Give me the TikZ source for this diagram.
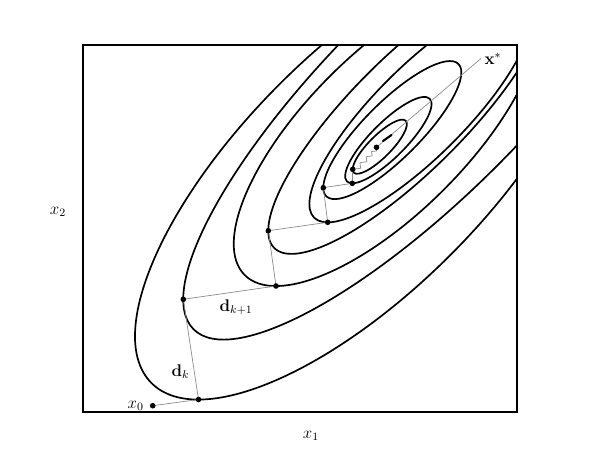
\documentclass[tikz,border=0pt]{standalone}
\usepackage{amsmath}
\usepackage{tikz}
\usetikzlibrary{positioning}

\begin{document}
\begin{tikzpicture}[
  x=0.25mm, y=-0.25mm,
  font=\large,
  frame/.style={line width=1.2pt},
  lvl/.style={line width=1.2pt},
  track/.style={draw=black!45, line width=0.5pt},
  dot/.style={circle, fill=black, inner sep=0pt, minimum size=1.4mm}
]
\useasboundingbox (0,0) rectangle (600,460);
\coordinate (bl) at (83,412);
\coordinate (tr) at (517,45);

% iterates of steepest descent
\coordinate (x0) at (152.7,405.7);
\coordinate (p1) at (198.5,399.5);
\coordinate (p2) at (183.3,299.3);
\coordinate (p3) at (276,286);
\coordinate (p4) at (268.3,230.7);
\coordinate (p5) at (327.7,222.3);
\coordinate (p6) at (323.3,187.7);
\coordinate (p7) at (352.3,183.3);
\coordinate (p8) at (352.7,169.3);
\coordinate (p9) at (376.5,147.3);
\coordinate (r1) at (383,141);
\coordinate (r2) at (391.5,135);
\coordinate (xs) at (481,58.5);

% level curves, each touching one iterate
% (point, angle of centre seen from the point, half axis, axis ratio)
\begin{scope}
  \clip (bl) rectangle (tr);
  \foreach \p/\t/\a/\r in {p1/-21.8/302/0.4, p2/16.7/330/0.3, p3/-21.8/201/0.4,
                           p4/16.7/190/0.3, p5/-16.7/150/0.3, p6/16.7/93.5/0.3,
                           p7/-16.7/58.5/0.3, p8/16.7/36.7/0.3}
  {
    \pgfmathsetmacro\b{\r*\a}
    \draw[lvl, shift={(\p)}, rotate=45] (\t:{\a} and {\b}) ellipse [x radius=\a, y radius=\b];
  }
\end{scope}
\draw[frame] (bl) rectangle (tr);

% search path
\draw[track] (x0) -- (p1) -- (p2) -- (p3) -- (p4) -- (p5) -- (p6) -- (p7) -- (p8);
\draw[track] (p8) -- ++(8,-1.1) -- ++(-0.8,-5.5) -- ++(7,-1) -- ++(-0.75,-5)
  -- ++(6,-0.8) -- ++(-0.65,-4.3) -- ++(5,-0.7) -- (p9);
\draw[track] (p9) -- (xs);
\draw[line width=1.5pt, line cap=round] (r1) -- (r2);

\foreach \p in {x0,p1,p2,p3,p4,p5,p6,p7,p8,p9}
  \node[dot] at (\p) {};

% labels
\node[left=1mm of x0] (lx0) {$x_0$};
\path (p1) -- node[pos=0.28, left] (ldk) {$\mathbf{d}_k$} (p2);
\path (p2) -- node[pos=0.57, below=2pt] (ldk1) {$\mathbf{d}_{k+1}$} (p3);
\node[right=0.5mm of xs, inner sep=1pt] (lxs) {$\mathbf{x}^*$};
\node (lx1) at (311,436) {$x_1$};
\node (lx2) at (58,212) {$x_2$};
\end{tikzpicture}
\end{document}
